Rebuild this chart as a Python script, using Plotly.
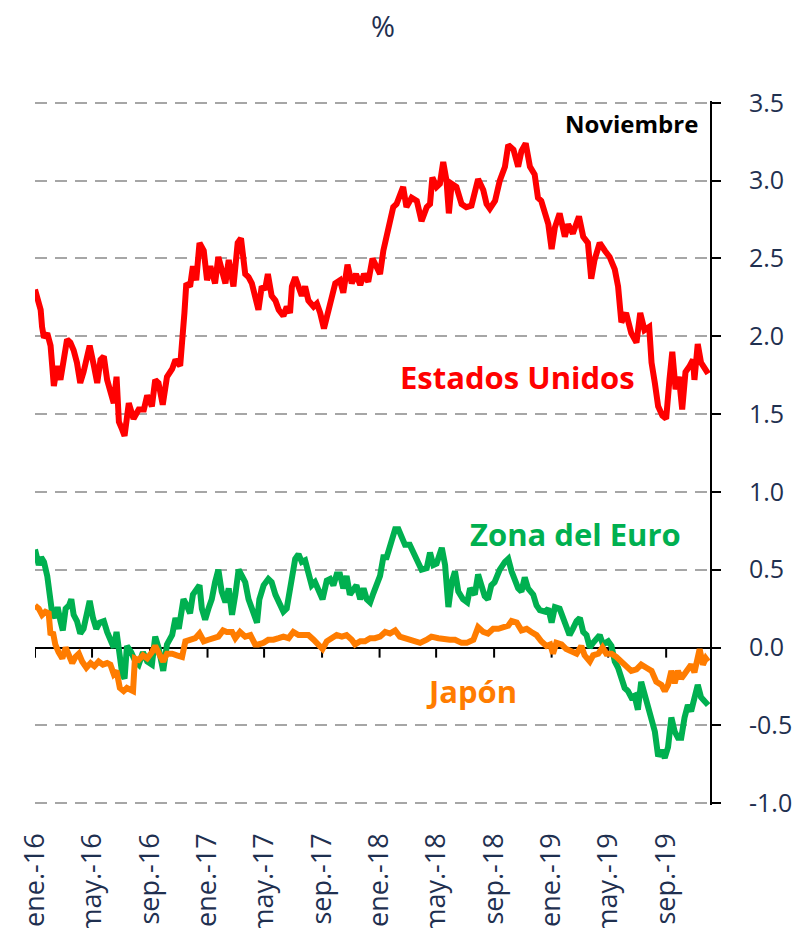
import pandas as pd
import plotly.graph_objects as go

START = "2016-01-01"

# Days since 2016-01-01 and 10-year yields (%)
us_day = [0, 12, 15, 19, 26, 33, 40, 47, 54, 61, 68, 75, 82, 89, 96, 103, 111, 116, 125, 132,
          139, 146, 153, 160, 167, 173, 178, 185, 190, 199, 209, 220, 231, 238, 248, 255, 262, 271,
          280, 291, 298, 308, 314, 317, 321, 329, 335, 342, 349, 358, 365, 372, 382, 389, 396, 404,
          411, 421, 430, 437, 446, 453, 460, 467, 474, 481, 488, 494, 502, 510, 517, 527, 534, 541,
          545, 552, 559, 566, 573, 580, 591, 598, 605, 613, 623, 630, 637, 647, 654, 663, 672, 681,
          690, 698, 707, 716, 725, 732, 739, 746, 760, 767, 774, 781, 788, 799, 810, 820, 831, 838,
          843, 852, 859, 866, 873, 878, 884, 894, 905, 915, 926, 933, 940, 951, 958, 965, 976, 986,
          997, 1004, 1015, 1025, 1032, 1041, 1050, 1060, 1067, 1074, 1082, 1089, 1096, 1103, 1113,
          1124, 1131, 1141, 1154, 1163, 1173, 1180, 1187, 1198, 1209, 1219, 1230, 1237, 1244, 1254,
          1265, 1276, 1284, 1293, 1303, 1308, 1315, 1322, 1331, 1339, 1346, 1352, 1359, 1366, 1373,
          1380, 1389, 1396, 1399, 1406, 1413, 1420, 1428]
us_val = [2.30, 2.17, 2.06, 1.99, 2.02, 1.94, 1.68, 1.81, 1.72, 1.85, 1.98, 1.96, 1.91, 1.83, 1.70,
          1.77, 1.89, 1.94, 1.81, 1.70, 1.85, 1.87, 1.72, 1.64, 1.57, 1.74, 1.45, 1.40, 1.36, 1.57,
          1.47, 1.53, 1.53, 1.62, 1.55, 1.72, 1.70, 1.56, 1.74, 1.79, 1.85, 1.81, 1.98, 2.15, 2.34,
          2.32, 2.45, 2.36, 2.60, 2.55, 2.36, 2.45, 2.34, 2.51, 2.43, 2.34, 2.49, 2.32, 2.60, 2.63,
          2.40, 2.38, 2.34, 2.23, 2.17, 2.32, 2.30, 2.40, 2.26, 2.23, 2.17, 2.13, 2.19, 2.15, 2.32,
          2.38, 2.32, 2.26, 2.32, 2.23, 2.19, 2.21, 2.15, 2.05, 2.17, 2.26, 2.34, 2.36, 2.28, 2.46,
          2.34, 2.40, 2.33, 2.40, 2.35, 2.50, 2.45, 2.40, 2.55, 2.64, 2.83, 2.85, 2.91, 2.96, 2.83,
          2.89, 2.87, 2.74, 2.83, 2.85, 3.02, 2.96, 2.98, 3.12, 3.00, 2.79, 2.98, 2.96, 2.85, 2.83,
          2.84, 2.94, 3.01, 2.94, 2.85, 2.82, 2.87, 3.00, 3.09, 3.23, 3.20, 3.09, 3.19, 3.24, 3.09,
          3.04, 2.89, 2.87, 2.77, 2.72, 2.56, 2.70, 2.79, 2.64, 2.72, 2.66, 2.77, 2.64, 2.60, 2.37,
          2.49, 2.60, 2.55, 2.51, 2.43, 2.32, 2.09, 2.15, 2.02, 1.96, 2.15, 2.04, 2.06, 1.83, 1.70,
          1.55, 1.49, 1.47, 1.72, 1.90, 1.66, 1.74, 1.53, 1.77, 1.81, 1.85, 1.72, 1.95, 1.83, 1.79,
          1.76]

eu_day = [0, 8, 13, 19, 26, 31, 36, 43, 48, 54, 59, 65, 72, 77, 82, 89, 96, 103, 109, 116, 123,
          130, 137, 146, 153, 160, 167, 173, 180, 185, 190, 195, 204, 213, 220, 229, 238, 248, 255,
          262, 272, 280, 291, 298, 305, 312, 315, 322, 329, 335, 342, 349, 354, 361, 368, 375, 382,
          389, 396, 404, 411, 418, 425, 432, 439, 446, 453, 462, 471, 476, 485, 495, 502, 510, 519,
          527, 534, 543, 552, 559, 566, 573, 580, 587, 594, 601, 610, 619, 626, 633, 640, 647, 654,
          661, 668, 675, 682, 690, 697, 704, 711, 718, 725, 732, 739, 746, 750, 757, 764, 771, 778,
          785, 795, 803, 810, 820, 831, 838, 845, 852, 863, 870, 877, 884, 891, 898, 908, 917, 923,
          933, 940, 947, 954, 961, 968, 975, 986, 997, 1004, 1011, 1018, 1025, 1032, 1039, 1046,
          1057, 1064, 1071, 1082, 1089, 1096, 1103, 1113, 1120, 1127, 1134, 1141, 1149, 1156, 1163,
          1170, 1177, 1184, 1191, 1198, 1205, 1216, 1223, 1230, 1237, 1244, 1251, 1258, 1265, 1272,
          1279, 1286, 1293, 1300, 1308, 1315, 1322, 1329, 1336, 1343, 1350, 1357, 1364, 1371, 1378,
          1385, 1392, 1399, 1406, 1413, 1420, 1428]
eu_val = [0.63, 0.53, 0.58, 0.55, 0.46, 0.31, 0.23, 0.19, 0.26, 0.17, 0.11, 0.25, 0.27, 0.31, 0.21,
          0.17, 0.09, 0.12, 0.23, 0.30, 0.19, 0.12, 0.16, 0.17, 0.10, 0.04, 0.00, 0.10, -0.07, -0.17,
          -0.20, 0.01, -0.03, -0.09, -0.11, -0.03, -0.09, -0.11, 0.07, 0.00, -0.15, 0.02, 0.08, 0.19,
          0.12, 0.23, 0.31, 0.27, 0.22, 0.34, 0.38, 0.40, 0.25, 0.18, 0.25, 0.31, 0.42, 0.50, 0.36,
          0.29, 0.38, 0.21, 0.34, 0.50, 0.46, 0.42, 0.31, 0.23, 0.16, 0.31, 0.40, 0.44, 0.42, 0.34,
          0.29, 0.23, 0.25, 0.44, 0.57, 0.60, 0.55, 0.56, 0.49, 0.40, 0.42, 0.37, 0.31, 0.43, 0.44,
          0.40, 0.47, 0.47, 0.38, 0.46, 0.34, 0.37, 0.40, 0.31, 0.38, 0.31, 0.29, 0.35, 0.42, 0.46,
          0.58, 0.58, 0.62, 0.70, 0.76, 0.76, 0.70, 0.66, 0.66, 0.61, 0.55, 0.50, 0.51, 0.61, 0.53,
          0.54, 0.64, 0.53, 0.26, 0.42, 0.49, 0.36, 0.31, 0.29, 0.38, 0.34, 0.47, 0.38, 0.33, 0.31,
          0.40, 0.42, 0.50, 0.55, 0.57, 0.49, 0.44, 0.38, 0.36, 0.45, 0.38, 0.34, 0.27, 0.24, 0.23,
          0.25, 0.16, 0.26, 0.25, 0.19, 0.12, 0.08, 0.12, 0.17, 0.19, 0.10, 0.08, 0.00, 0.03, 0.06,
          0.08, 0.02, 0.04, 0.01, -0.09, -0.13, -0.21, -0.26, -0.28, -0.32, -0.31, -0.40, -0.22,
          -0.30, -0.37, -0.45, -0.54, -0.70, -0.66, -0.71, -0.64, -0.45, -0.54, -0.58, -0.58, -0.45,
          -0.37, -0.41, -0.32, -0.24, -0.32, -0.34, -0.37]

jp_day = [0, 8, 15, 22, 29, 33, 38, 43, 50, 58, 65, 72, 79, 86, 93, 100, 109, 118, 126, 135, 144,
          153, 160, 167, 173, 180, 188, 195, 202, 208, 212, 220, 229, 238, 248, 255, 265, 272, 280,
          291, 301, 312, 319, 329, 340, 349, 358, 368, 379, 389, 399, 407, 418, 425, 435, 446, 457,
          467, 474, 485, 495, 506, 517, 527, 538, 548, 559, 569, 580, 591, 601, 610, 619, 630, 640,
          651, 661, 672, 679, 690, 700, 711, 721, 732, 743, 753, 764, 774, 788, 803, 817, 831, 841,
          856, 870, 880, 891, 905, 916, 930, 940, 951, 961, 972, 983, 993, 1004, 1011, 1022, 1032,
          1043, 1053, 1064, 1074, 1085, 1093, 1099, 1106, 1117, 1127, 1138, 1149, 1159, 1166, 1177,
          1184, 1195, 1204, 1212, 1223, 1233, 1244, 1254, 1265, 1276, 1286, 1297, 1308, 1318, 1329,
          1336, 1343, 1350, 1357, 1364, 1371, 1378, 1385, 1392, 1399, 1404, 1410, 1417, 1423, 1428]
jp_val = [0.27, 0.25, 0.21, 0.23, 0.22, 0.08, 0.10, 0.02, -0.03, -0.07, 0.00, -0.05, -0.10, -0.06,
          -0.04, -0.09, -0.13, -0.10, -0.12, -0.09, -0.11, -0.10, -0.11, -0.17, -0.15, -0.26, -0.28,
          -0.26, -0.27, -0.28, -0.07, -0.08, -0.05, -0.07, -0.03, 0.01, -0.05, -0.09, -0.04, -0.04,
          -0.05, -0.06, 0.04, 0.05, 0.06, 0.09, 0.04, 0.05, 0.06, 0.07, 0.11, 0.10, 0.10, 0.06, 0.10,
          0.07, 0.08, 0.02, 0.02, 0.03, 0.05, 0.05, 0.06, 0.07, 0.06, 0.10, 0.08, 0.08, 0.08, 0.05,
          0.02, -0.01, 0.04, 0.06, 0.08, 0.07, 0.08, 0.05, 0.02, 0.04, 0.04, 0.06, 0.06, 0.07, 0.10,
          0.09, 0.11, 0.07, 0.06, 0.04, 0.03, 0.05, 0.07, 0.06, 0.05, 0.05, 0.05, 0.03, 0.03, 0.05,
          0.13, 0.10, 0.09, 0.12, 0.12, 0.13, 0.14, 0.17, 0.16, 0.11, 0.12, 0.10, 0.08, 0.04, 0.01,
          0.02, -0.04, 0.03, 0.02, -0.01, -0.03, -0.04, 0.01, -0.05, -0.09, -0.05, -0.04, 0.00, -0.04,
          -0.04, -0.06, -0.09, -0.12, -0.15, -0.14, -0.11, -0.13, -0.15, -0.22, -0.24, -0.28, -0.24,
          -0.15, -0.23, -0.15, -0.20, -0.17, -0.14, -0.11, -0.16, -0.07, -0.01, -0.11, -0.07, -0.09]

tick_dates = ["2016-01-01", "2016-05-01", "2016-09-01", "2017-01-01", "2017-05-01", "2017-09-01",
              "2018-01-01", "2018-05-01", "2018-09-01", "2019-01-01", "2019-05-01", "2019-09-01"]
tick_labels = ["ene.-16", "may.-16", "sep.-16", "ene.-17", "may.-17", "sep.-17",
               "ene.-18", "may.-18", "sep.-18", "ene.-19", "may.-19", "sep.-19"]
y_ticks = [-1.0, -0.5, 0.0, 0.5, 1.0, 1.5, 2.0, 2.5, 3.0, 3.5]
y_labels = ["-1.0", "-0.5", "0.0", "0.5", "1.0", "1.5", "2.0", "2.5", "3.0", "3.5"]


def to_dates(days):
    return pd.Timestamp(START) + pd.to_timedelta(days, unit="D")


NAVY = "#1F3050"
FONT = "Open Sans"
RED, GREEN, ORANGE = "#FF0000", "#00B050", "#FF7C00"
LW = 6

fig = go.Figure()
fig.add_trace(go.Scatter(x=to_dates(eu_day), y=eu_val, mode="lines",
                         line=dict(color=GREEN, width=LW), name="Zona del Euro"))
fig.add_trace(go.Scatter(x=to_dates(jp_day), y=jp_val, mode="lines",
                         line=dict(color=ORANGE, width=LW), name="Japón"))
fig.add_trace(go.Scatter(x=to_dates(us_day), y=us_val, mode="lines",
                         line=dict(color=RED, width=LW), name="Estados Unidos"))

# small downward ticks on the zero line
for d in tick_dates:
    fig.add_shape(type="line", xref="x", yref="y", x0=d, x1=d, y0=0, y1=-0.065,
                  line=dict(color="black", width=2), layer="below")

fig.update_layout(
    width=793, height=928,
    margin=dict(l=35, r=83, t=101, b=123),
    paper_bgcolor="white", plot_bgcolor="white",
    showlegend=False,
    font=dict(family=FONT, color=NAVY),
    title=dict(text="%", x=0.483, xanchor="center", y=0.971, yanchor="middle",
               font=dict(size=29, color=NAVY, family=FONT)),
    xaxis=dict(range=["2016-01-01", "2019-12-03"], tickvals=tick_dates, ticktext=tick_labels,
               tickangle=-90, tickfont=dict(size=27, color=NAVY, family=FONT),
               showgrid=False, showline=False, ticks="", zeroline=False,
               ticklabelstandoff=22, automargin=False),
    yaxis=dict(range=[-1.012, 3.512], side="right", tickvals=y_ticks, ticktext=y_labels,
               tickfont=dict(size=25, color=NAVY, family=FONT),
               showgrid=True, gridcolor="#A6A6A6", gridwidth=2, griddash="12px,8px",
               zeroline=True, zerolinecolor="black", zerolinewidth=2,
               showline=True, linecolor="black", linewidth=2,
               ticks="outside", ticklen=9, tickwidth=2, tickcolor="black",
               ticklabelstandoff=23, automargin=False),
)

fig.add_annotation(text="<b>Estados Unidos</b>", x=0.715, y=1.74, xref="paper", yref="y",
                   xanchor="center", showarrow=False, font=dict(size=31, color=RED, family=FONT))
fig.add_annotation(text="<b>Zona del Euro</b>", x=0.8, y=0.73, xref="paper", yref="y",
                   xanchor="center", showarrow=False, font=dict(size=31, color=GREEN, family=FONT))
fig.add_annotation(text="<b>Japón</b>", x=0.646, y=-0.28, xref="paper", yref="y",
                   xanchor="center", showarrow=False, font=dict(size=31, color=ORANGE, family=FONT))
fig.add_annotation(text="<b>Noviembre</b>", x=0.985, y=3.37, xref="paper", yref="y",
                   xanchor="right", showarrow=False, font=dict(size=24, color="black", family=FONT))

# remove the default page margin so the 793x928 figure fills the window exactly
fig.write_html("out.html", config={"displayModeBar": False},
               post_script="document.body.style.margin='0px';document.body.style.overflow='hidden';")
